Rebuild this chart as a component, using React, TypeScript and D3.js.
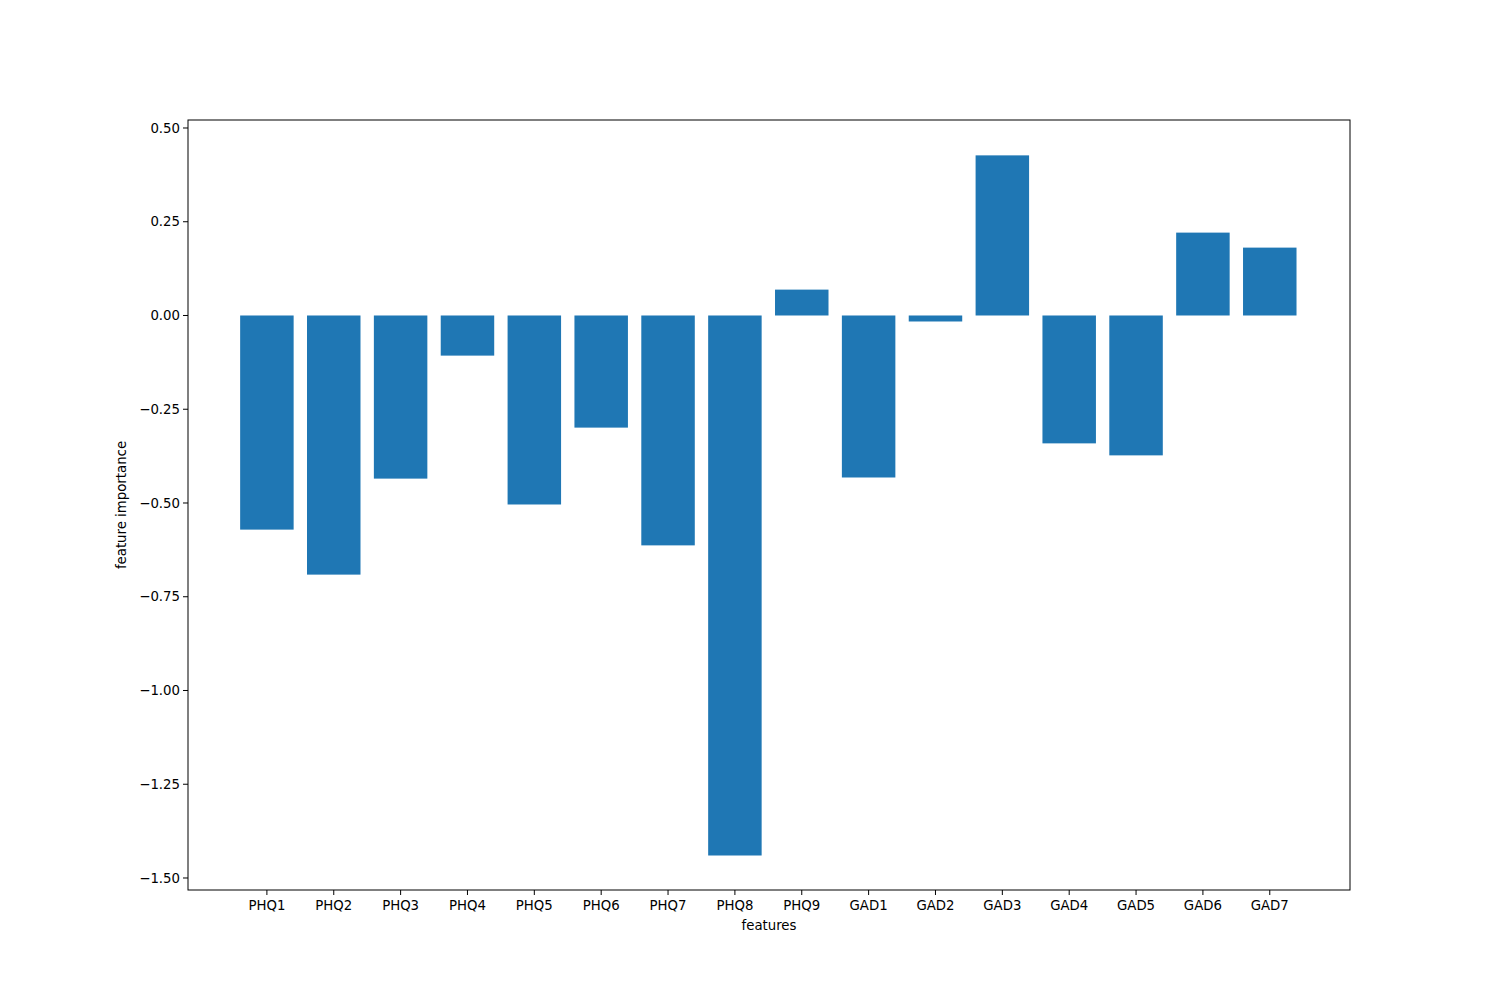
import * as d3 from "d3";

const features = ["PHQ1", "PHQ2", "PHQ3", "PHQ4", "PHQ5", "PHQ6", "PHQ7", "PHQ8", "PHQ9", "GAD1", "GAD2", "GAD3", "GAD4", "GAD5", "GAD6", "GAD7"];
const importance = [-0.571, -0.691, -0.435, -0.107, -0.504, -0.299, -0.613, -1.44, 0.069, -0.432, -0.016, 0.427, -0.341, -0.373, 0.221, 0.181];
const yTickValues = [0.5, 0.25, 0, -0.25, -0.5, -0.75, -1.0, -1.25, -1.5];

export default function App() {
  const width = 1500;
  const height = 1000;
  const m = { top: 120, right: 150, bottom: 110, left: 188 };
  const x = d3.scaleLinear().domain([-1.18, 16.2]).range([m.left, width - m.right]);
  const y = d3.scaleLinear().domain([-1.532, 0.5213]).range([height - m.bottom, m.top]);
  const bw = x(0.8) - x(0);
  const fmt = (v: number) => v.toFixed(2).replace("-", "\u2212");
  const font = "DejaVu Sans, sans-serif";

  return (
    <svg width={width} height={height} style={{ position: "absolute", left: 0, top: 0, background: "#fff" }} fontFamily={font}>
      {importance.map((v, i) => (
        <rect key={features[i]} x={x(i) - bw / 2} width={bw} y={y(Math.max(0, v))} height={Math.abs(y(v) - y(0))} fill="#1f77b4" />
      ))}
      <rect x={m.left} y={m.top} width={width - m.left - m.right} height={height - m.top - m.bottom} fill="none" stroke="#000" strokeWidth={1} />
      {yTickValues.map((t) => (
        <g key={t}>
          <line x1={m.left - 5} x2={m.left} y1={y(t)} y2={y(t)} stroke="#000" />
          <text x={m.left - 8} y={y(t)} dy="0.35em" textAnchor="end" fontSize={13.3}>{fmt(t)}</text>
        </g>
      ))}
      {features.map((f, i) => (
        <g key={f}>
          <line x1={x(i)} x2={x(i)} y1={height - m.bottom} y2={height - m.bottom + 5} stroke="#000" />
          <text x={x(i)} y={height - m.bottom + 20} textAnchor="middle" fontSize={13.3}>{f}</text>
        </g>
      ))}
      <text x={(m.left + width - m.right) / 2} y={930} textAnchor="middle" fontSize={13.3}>features</text>
      <text transform={`translate(126, ${(m.top + height - m.bottom) / 2}) rotate(-90)`} textAnchor="middle" fontSize={13.3}>feature importance</text>
    </svg>
  );
}
